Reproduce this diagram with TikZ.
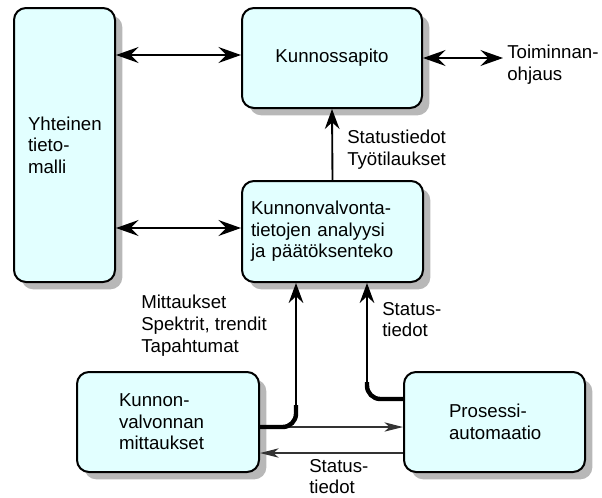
\documentclass[tikz,border=0pt]{standalone}
\usepackage{fontspec}
\setmainfont{Liberation Sans}
\usetikzlibrary{arrows.meta,shadows}
\definecolor{boxfill}{RGB}{226,255,255}
\begin{document}
\begin{tikzpicture}[x=0.75pt,y=-0.75pt,
  font=\fontsize{14pt}{16.2pt}\selectfont,
  box/.style={draw, line width=1.5pt, rounded corners=9pt, fill=boxfill,
    drop shadow={shadow xshift=5.5pt, shadow yshift=-5.5pt, fill=black!28, opacity=1},
    align=left, inner ysep=2pt},
  lbl/.style={anchor=north west, inner sep=0pt, align=left},
  dblarrow/.style={line width=1.4pt,
    {Stealth[length=17pt, width=12pt, inset=6pt]}-{Stealth[length=17pt, width=12pt, inset=6pt]}},
  uparrow/.style={line width=1.4pt, -{Stealth[length=15pt, width=11pt, inset=5pt]}},
  flowarrow/.style={line width=0.9pt, draw=black!80, -{Stealth[length=14pt, width=7pt, inset=4pt]}},
  feed/.style={line width=3.3pt, rounded corners=10pt}
]
\useasboundingbox (0,0) rectangle (602,497);

% boxes
\node[box, minimum width=75.75pt, minimum height=205.5pt,
      text width=54.75pt, inner xsep=10.5pt] (Y) at (64.5,145)
  {Yhteinen\\tieto-\\malli\\[-6pt]};
\node[box, minimum width=135pt, minimum height=75pt, align=center] (K) at (332,58)
  {Kunnossapito};
\node[box, minimum width=135.75pt, minimum height=75.75pt,
      text width=122.25pt, inner xsep=6.75pt] (A) at (332.5,231.5)
  {Kunnonvalvonta-\\tietojen analyysi\\ja päätöksenteko};
\node[box, minimum width=136.5pt, minimum height=75pt,
      text width=73.5pt, inner xsep=31.5pt] (M) at (168,422)
  {Kunnon-\\valvonnan\\mittaukset};
\node[box, minimum width=135.75pt, minimum height=75pt,
      text width=68.25pt, inner xsep=33.75pt] (P) at (494.5,422)
  {Prosessi-\\automaatio};

% free labels
\node[lbl] (T) at (507,45) {Toiminnan-\\ohjaus};
\node[lbl] (L1) at (347,130) {Statustiedot\\Työtilaukset};
\node[lbl] (L2) at (141,295) {Mittaukset\\Spektrit, trendit\\Tapahtumat};
\node[lbl] (L3) at (382,302) {Status-\\tiedot};
\node[lbl] (L4) at (309,459) {Status-\\tiedot};

% helper points for the routed connectors
\coordinate (k1) at (0,55);
\coordinate (a1) at (0,228);
\coordinate (mj) at (296,427);
\coordinate (mt) at (296,405);
\coordinate (pj) at (367,399);
\coordinate (pt) at (367,382);
\coordinate (pm) at (0,453);

% connectors
\draw[dblarrow] (Y.east |- k1) -- (K.west |- k1);
\draw[dblarrow] (Y.east |- a1) -- (A.west |- a1);
\draw[dblarrow, shorten >=3pt] (K.east) -- (K.east -| T.west);
\draw[uparrow] (A.north) -- (K.south);

\draw[flowarrow] (M.east |- mj) -- (P.west |- mj);
\draw[flowarrow] (P.west |- pm) -- (M.east |- pm);

\draw[feed] (M.east |- mj) -- (mj) -- (mt);
\draw[uparrow] (mt) -- (mt |- A.south);
\draw[feed] (P.west |- pj) -- (pj) -- (pt);
\draw[uparrow] (pt) -- (pt |- A.south);
\end{tikzpicture}
\end{document}
